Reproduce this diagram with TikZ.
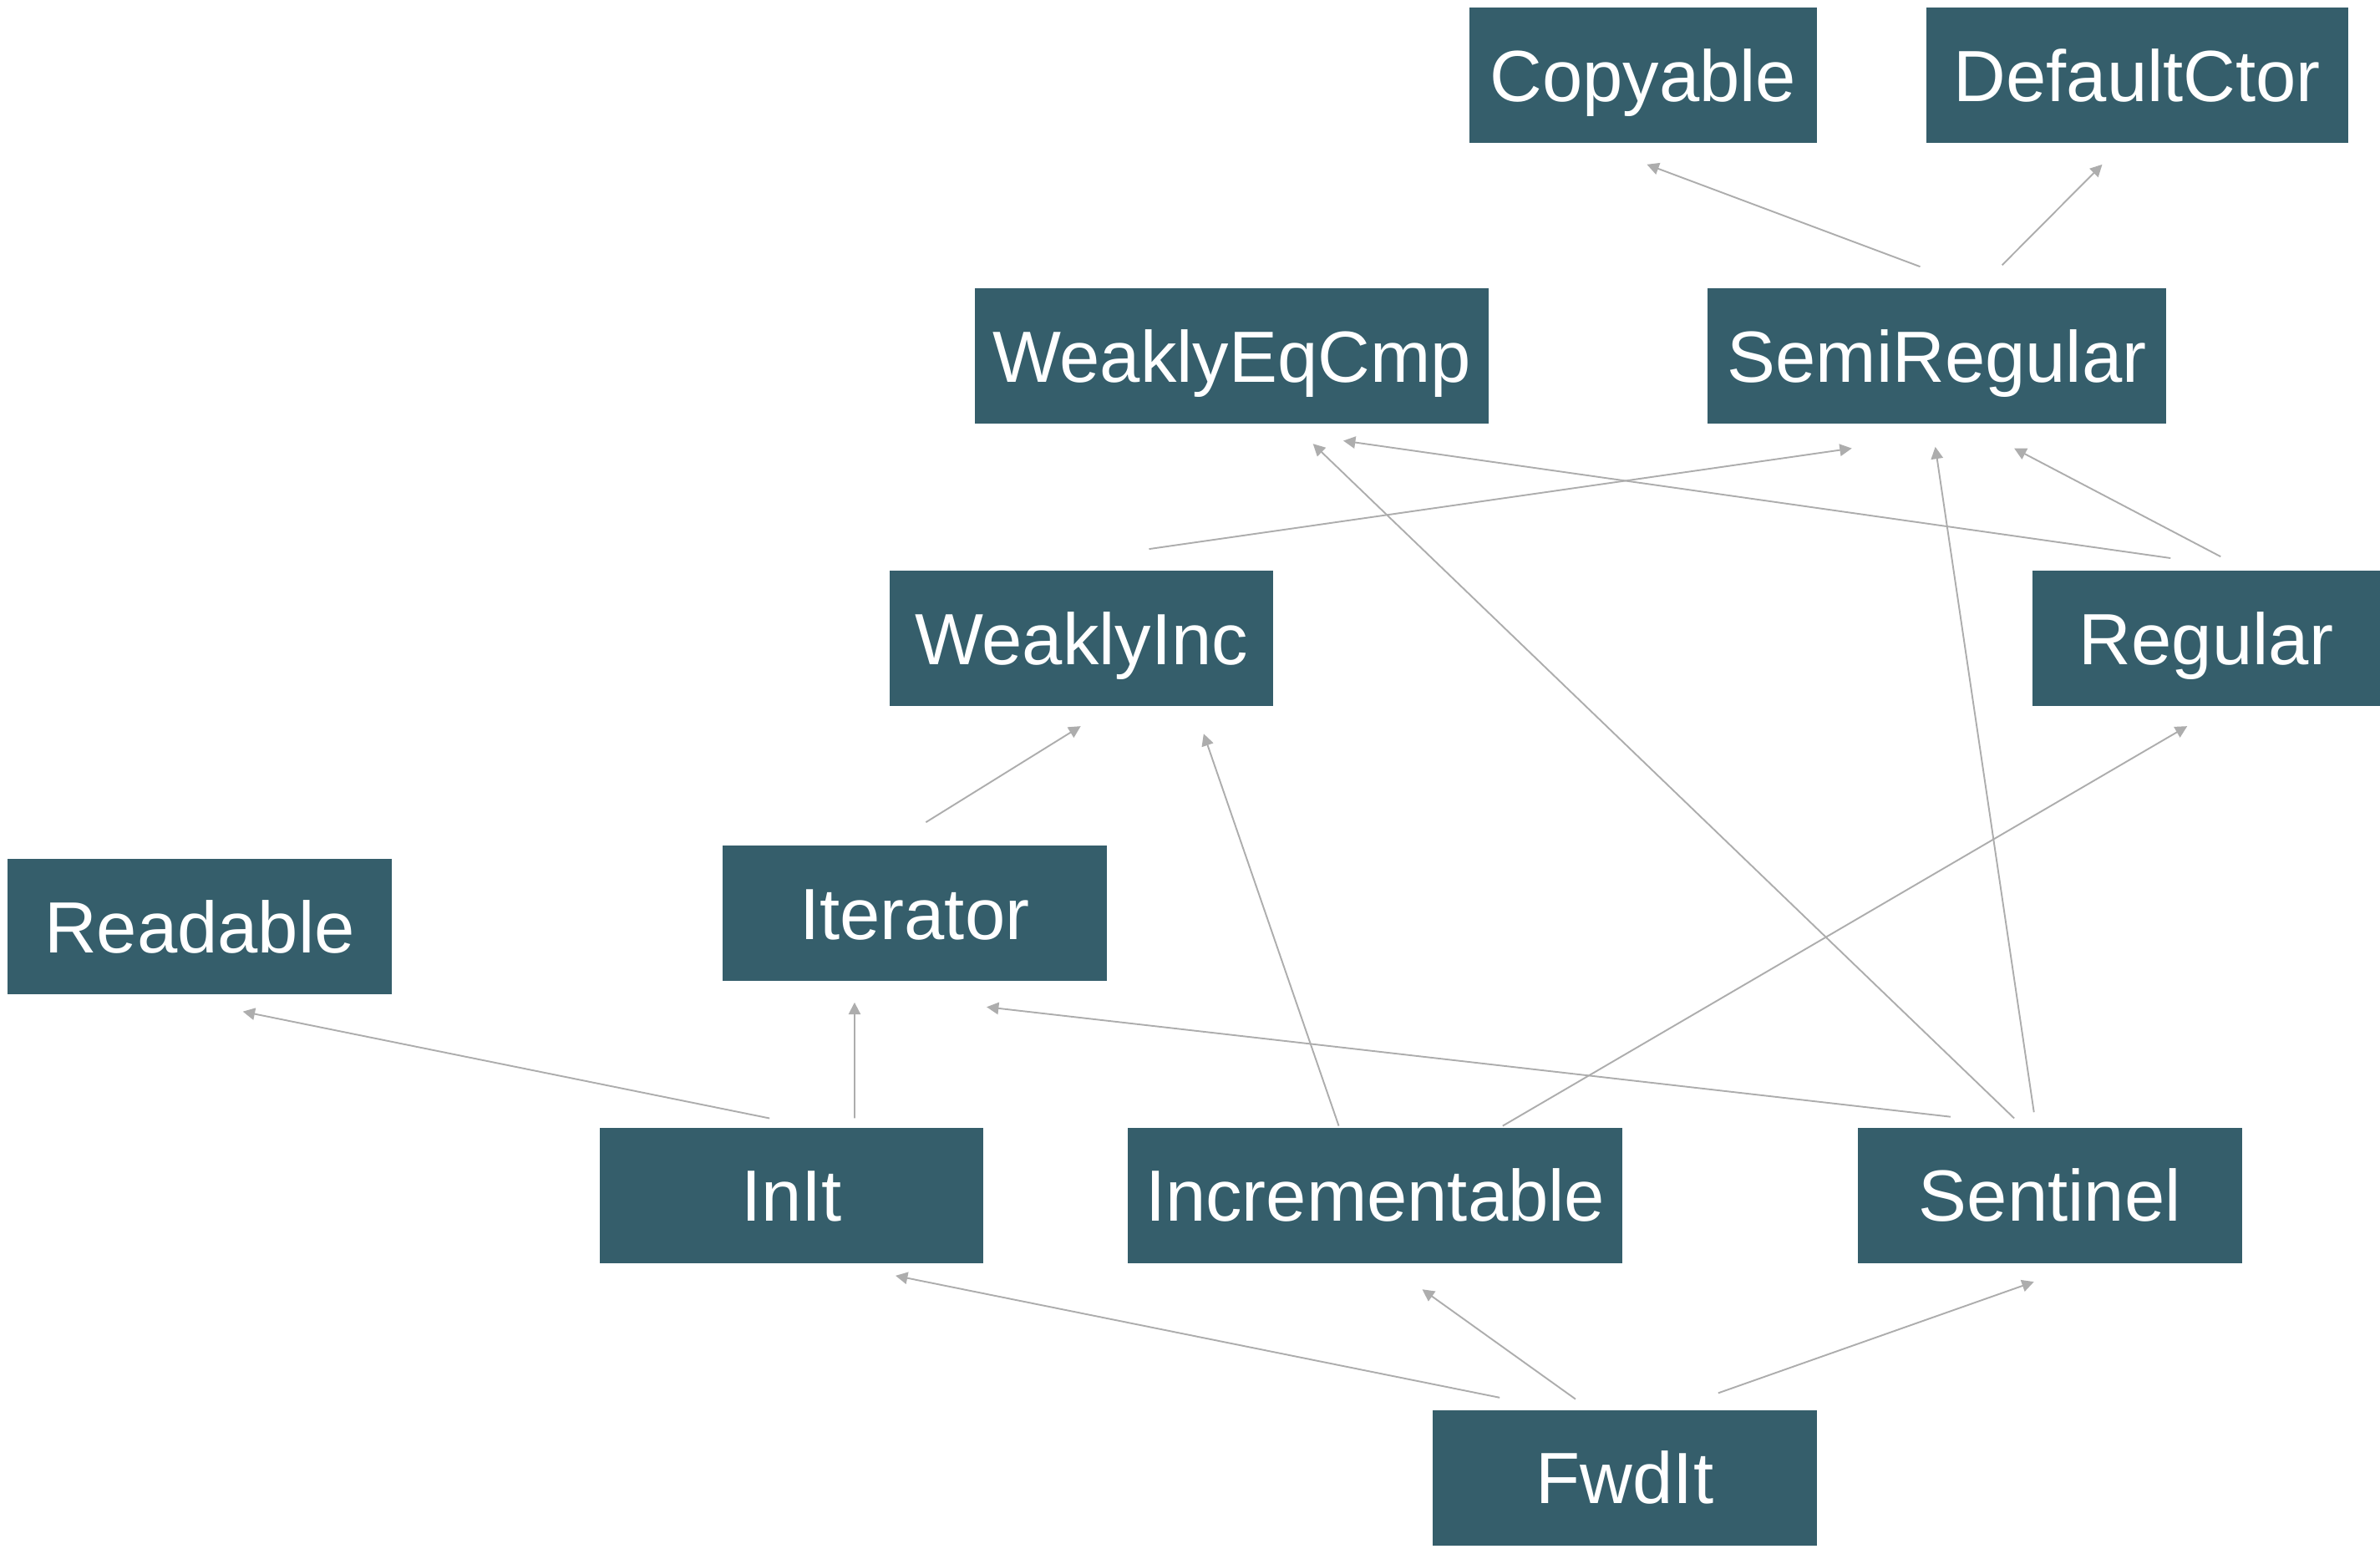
\documentclass[tikz,border=0pt]{standalone}
\usepackage{fontspec}
\setmainfont{Liberation Sans}
\usetikzlibrary{arrows.meta}
\definecolor{boxteal}{RGB}{53,94,107}
\definecolor{linkgray}{RGB}{173,173,173}
\begin{document}
\begin{tikzpicture}[x=0.02cm,y=-0.02cm,
  concept/.style={fill=boxteal,text=white,inner sep=0pt,minimum height=1.78cm,
    text height=19.5pt,text depth=0pt,font=\fontsize{27.2}{32}\selectfont},
  link/.style={draw=linkgray,line width=0.6pt,-{Triangle[length=4.5pt,width=4.5pt]}}]
\useasboundingbox (0,0) rectangle (1568,1020);
% concepts
\node[concept,minimum width=4.58cm] (Copyable) at (1082.5,49.5) {Copyable};
\node[concept,minimum width=5.56cm] (DefaultCtor) at (1408,49.5) {DefaultCtor};
\node[concept,minimum width=6.78cm] (WeaklyEqCmp) at (811.5,234.5) {WeaklyEqCmp};
\node[concept,minimum width=6.04cm] (SemiRegular) at (1276,234.5) {SemiRegular};
\node[concept,minimum width=5.06cm] (WeaklyInc) at (712.5,420.5) {WeaklyInc};
\node[concept,minimum width=4.58cm] (Regular) at (1453.5,420.5) {Regular};
\node[concept,minimum width=5.06cm] (Readable) at (131.5,610.5) {Readable};
\node[concept,minimum width=5.06cm] (Iterator) at (602.5,601.5) {Iterator};
\node[concept,minimum width=5.06cm] (InIt) at (521.5,787.5) {InIt};
\node[concept,minimum width=6.52cm] (Incrementable) at (906,787.5) {Incrementable};
\node[concept,minimum width=5.06cm] (Sentinel) at (1350.5,787.5) {Sentinel};
\node[concept,minimum width=5.06cm] (FwdIt) at (1070.5,973.5) {FwdIt};
% refinements
\draw[link] ([shift={(-11,-14)}]SemiRegular.north) -- ([shift={(2.5,14)}]Copyable.south);
\draw[link] ([shift={(43,-15)}]SemiRegular.north) -- ([shift={(-23,14)}]DefaultCtor.south);
\draw[link] ([shift={(44.5,-14)}]WeaklyInc.north) -- ([shift={(-56,16)}]SemiRegular.south);
\draw[link] ([shift={(-23.5,-8)}]Regular.north) -- ([shift={(73.5,11)}]WeaklyEqCmp.south);
\draw[link] ([shift={(9.5,-9)}]Regular.north) -- ([shift={(51,16)}]SemiRegular.south);
\draw[link] ([shift={(7.5,-15)}]Iterator.north) -- ([shift={(-0.5,13)}]WeaklyInc.south);
\draw[link] ([shift={(-24,-1)}]Incrementable.north) -- ([shift={(80.5,18)}]WeaklyInc.south);
\draw[link] ([shift={(84,-1)}]Incrementable.north) -- ([shift={(-12.5,13)}]Regular.south);
\draw[link] ([shift={(-23.5,-6)}]Sentinel.north) -- ([shift={(53.5,13)}]WeaklyEqCmp.south);
\draw[link] ([shift={(-10.5,-10)}]Sentinel.north) -- ([shift={(-1,15)}]SemiRegular.south);
\draw[link] ([shift={(-65.5,-7)}]Sentinel.north) -- ([shift={(47.5,17)}]Iterator.south);
\draw[link] ([shift={(-14.5,-6)}]InIt.north) -- ([shift={(28.5,11)}]Readable.south);
\draw[link] ([shift={(41.5,-6)}]InIt.north) -- ([shift={(-39.5,14)}]Iterator.south);
\draw[link] ([shift={(-82.5,-8)}]FwdIt.north) -- ([shift={(68.5,8)}]InIt.south);
\draw[link] ([shift={(-32.5,-7)}]FwdIt.north) -- ([shift={(31,17)}]Incrementable.south);
\draw[link] ([shift={(61.5,-11)}]FwdIt.north) -- ([shift={(-10.5,12)}]Sentinel.south);
\end{tikzpicture}
\end{document}
